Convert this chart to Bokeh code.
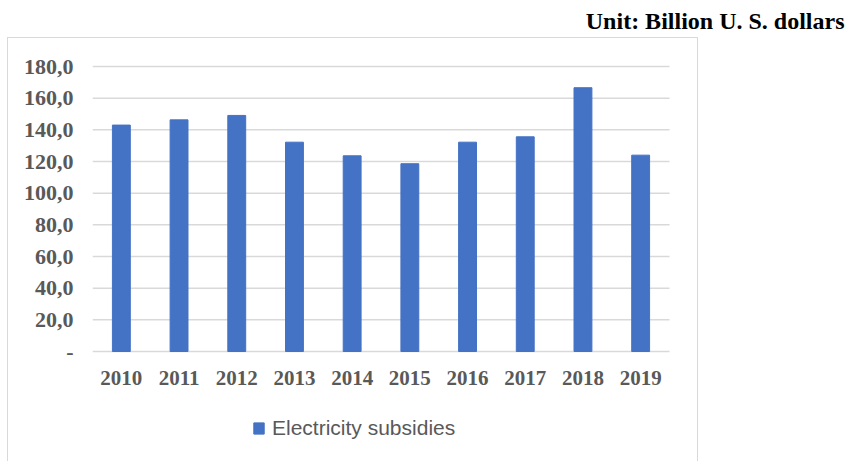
from bokeh.plotting import figure
from bokeh.models import (Range1d, FixedTicker, Label, Legend, LegendItem,
                          ColumnDataSource, InlineStyleSheet)
from bokeh.embed import file_html
from bokeh.resources import INLINE

years = ["2010", "2011", "2012", "2013", "2014", "2015", "2016", "2017", "2018", "2019"]
subsidies = [143.0, 146.3, 149.1, 132.2, 123.6, 118.6, 132.2, 135.6, 166.6, 124.0]
y_ticks = [0, 20, 40, 60, 80, 100, 120, 140, 160, 180]
y_tick_labels = ["-", "20,0", "40,0", "60,0", "80,0", "100,0", "120,0", "140,0", "160,0", "180,0"]
series_name = "Electricity subsidies"
unit_text = "Unit: Billion U. S. dollars"

# ---- layout geometry (pixels) ----
W, H = 847, 461
LEFT = 92                 # plot area left edge
CAT_PX = 57.7             # width of one category slot
TOP_PX, ZERO_PX = 66, 351 # pixel rows of 180 and 0
FRAME_H = H               # x-axis panel collapses to zero height
px_per_unit = (ZERO_PX - TOP_PX) / (y_ticks[-1] - y_ticks[0])

n = len(years)
idx = list(range(n))
x_start = -0.5
x_end = x_start + (W - LEFT) / CAT_PX
y_end = y_ticks[-1] + TOP_PX / px_per_unit
y_start = -(FRAME_H - ZERO_PX) / px_per_unit

p = figure(width=W, height=H, x_range=Range1d(x_start, x_end), y_range=Range1d(y_start, y_end),
           output_backend="svg", toolbar_location=None, title_location=None,
           min_border_left=LEFT, min_border_right=0, min_border_top=0, min_border_bottom=0)
p.outline_line_color = None
p.background_fill_color = "white"
p.border_fill_color = "white"
p.xgrid.visible = False
p.ygrid.visible = False

# horizontal gridlines across the category area
p.segment(x0=[x_start] * len(y_ticks), x1=[n - 0.5] * len(y_ticks), y0=y_ticks, y1=y_ticks,
          line_color="#d9d9d9", line_width=1.5)

src = ColumnDataSource(dict(x=idx, top=subsidies))
r = p.vbar(x="x", top="top", width=0.31, source=src, fill_color="#4472C4",
           line_color="#4472C4", line_width=1)

p.yaxis.ticker = FixedTicker(ticks=y_ticks)
p.yaxis.major_label_overrides = {t: l for t, l in zip(y_ticks, y_tick_labels)}
p.xaxis.ticker = FixedTicker(ticks=idx)
p.xaxis.major_label_overrides = {i: y for i, y in zip(idx, years)}
for ax in (p.xaxis[0], p.yaxis[0]):
    ax.axis_line_color = None
    ax.major_tick_line_color = None
    ax.minor_tick_line_color = None
    ax.major_tick_out = 0
    ax.major_tick_in = 0
    ax.minor_tick_out = 0
    ax.minor_tick_in = 0
    ax.major_label_text_font = "Liberation Serif"
    ax.major_label_text_font_style = "bold"
    ax.major_label_text_color = "#595959"
p.yaxis.major_label_text_font_size = "22px"
p.xaxis.major_label_text_font_size = "21px"
p.yaxis.major_label_standoff = 19
# x axis sits just below the zero line; labels start ~19px under it
p.xaxis.fixed_location = -27 / px_per_unit
p.xaxis.major_label_standoff = -8

# outer chart-area border (decoration only)
p.stylesheets = [InlineStyleSheet(css="""
:host { position: relative; }
:host::after {
  content: ""; position: absolute; left: 7px; top: 37px; width: 691px; height: 440px;
  border: 1.5px solid #d9d9d9; pointer-events: none; box-sizing: border-box;
}
""")]

title = Label(x=x_start + (844 - LEFT) / CAT_PX, y=y_end - 20 / px_per_unit, text=unit_text,
              text_font="Liberation Serif", text_font_style="bold", text_font_size="24px",
              text_color="black", text_align="right", text_baseline="middle")
p.add_layout(title)

legend = Legend(items=[LegendItem(label=series_name, renderers=[r])],
                location=(160, 21), orientation="horizontal",
                label_text_font="Liberation Sans", label_text_font_size="21px",
                label_text_color="#595959", glyph_width=13, glyph_height=14,
                label_height=14, label_standoff=7, margin=0, padding=5,
                background_fill_alpha=0, border_line_color=None)
p.add_layout(legend)

open("out.html", "w").write(file_html(p, INLINE))
